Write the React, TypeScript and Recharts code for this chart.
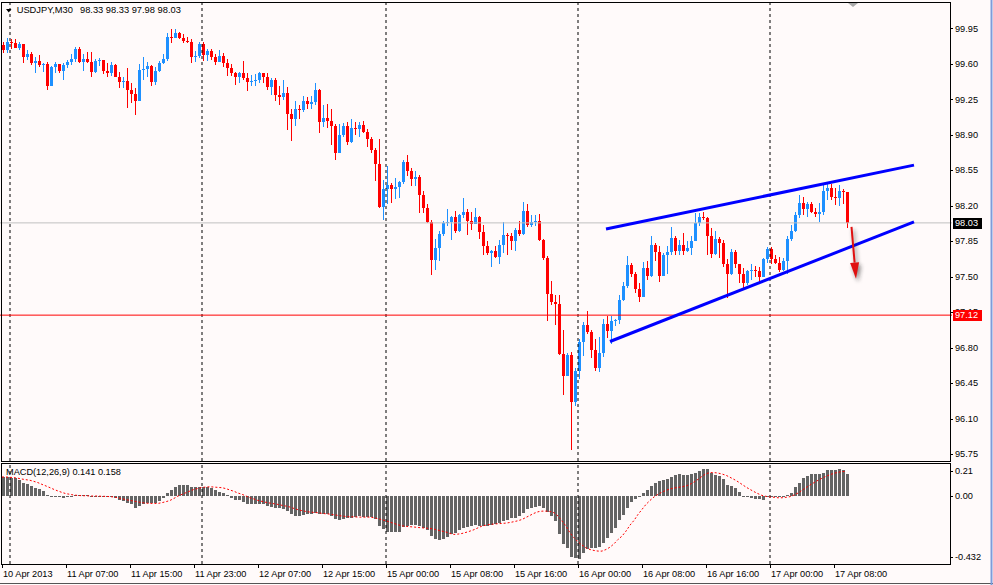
import React from "react";
import { ComposedChart, Bar, Line, XAxis, YAxis, ReferenceLine } from "recharts";

// USDJPY M30, bars (open = previous close)
const firstOpen = 99.78;
const closes = [
  99.74, 99.81, 99.8, 99.76, 99.79, 99.67, 99.7, 99.61, 99.63, 99.59,
  99.6, 99.38, 99.57, 99.6, 99.53, 99.59, 99.62, 99.65, 99.75, 99.62,
  99.65, 99.62, 99.52, 99.63, 99.64, 99.53, 99.51, 99.59, 99.47, 99.42,
  99.43, 99.34, 99.3, 99.23, 99.54, 99.55, 99.58, 99.42, 99.53, 99.61,
  99.65, 99.86, 99.85, 99.9, 99.85, 99.82, 99.81, 99.67, 99.68, 99.79,
  99.69, 99.73, 99.67, 99.62, 99.68, 99.61, 99.56, 99.51, 99.47, 99.51,
  99.46, 99.42, 99.43, 99.44, 99.51, 99.47, 99.37, 99.44, 99.29, 99.27,
  99.31, 99.1, 99.05, 99.15, 99.14, 99.23, 99.2, 99.22, 99.34, 99.03,
  99.06, 99.04, 98.99, 98.72, 98.9, 98.99, 98.83, 98.97, 98.96, 99.0,
  98.93, 98.86, 98.75, 98.61, 98.19, 98.36, 98.4, 98.36, 98.38, 98.43,
  98.63, 98.54, 98.46, 98.48, 98.31, 98.18, 98.04, 97.66, 97.78, 97.92,
  98.03, 98.04, 98.09, 97.95, 98.11, 98.14, 98.05, 98.02, 98.09, 97.94,
  97.8, 97.73, 97.75, 97.69, 97.81, 97.91, 97.9, 97.85, 97.96, 97.92,
  98.15, 98.01, 98.04, 98.05, 97.86, 97.68, 97.33, 97.25, 97.23, 96.74,
  96.52, 96.73, 96.26, 96.57, 96.85, 97.02, 96.95, 96.78, 96.6, 96.75,
  97.03, 96.96, 97.06, 97.07, 97.27, 97.41, 97.61, 97.53, 97.38, 97.3,
  97.58, 97.51, 97.81, 97.74, 97.51, 97.71, 97.74, 97.88, 97.75, 97.81,
  97.75, 97.78, 97.85, 98.03, 98.09, 98.08, 97.9, 97.72, 97.87, 97.83,
  97.62, 97.53, 97.74, 97.62, 97.53, 97.44, 97.56, 97.57, 97.56, 97.5,
  97.67, 97.77, 97.67, 97.63, 97.57, 97.65, 97.87, 97.95, 98.11, 98.23,
  98.17, 98.22, 98.14, 98.12, 98.14, 98.34, 98.37, 98.29, 98.28, 98.34,
  98.33, 98.03,
];
const highs = [
  99.81, 99.85, 99.84, 99.84, 99.81, 99.78, 99.74, 99.72, 99.67, 99.69,
  99.61, 99.62, 99.58, 99.62, 99.6, 99.61, 99.64, 99.7, 99.77, 99.77,
  99.7, 99.72, 99.72, 99.65, 99.66, 99.63, 99.61, 99.62, 99.6, 99.52,
  99.47, 99.56, 99.41, 99.36, 99.6, 99.67, 99.62, 99.59, 99.57, 99.63,
  99.7, 99.9, 99.94, 99.94, 99.91, 99.89, 99.86, 99.84, 99.73, 99.81,
  99.81, 99.75, 99.75, 99.7, 99.74, 99.71, 99.65, 99.6, 99.52, 99.52,
  99.63, 99.51, 99.49, 99.5, 99.52, 99.51, 99.51, 99.46, 99.46, 99.38,
  99.44, 99.37, 99.15, 99.23, 99.19, 99.28, 99.27, 99.28, 99.41, 99.35,
  99.19, 99.2, 99.15, 99.01, 99.01, 99.02, 99.03, 99.05, 99.03, 99.03,
  99.04, 98.96, 98.88, 98.77, 98.86, 98.45, 98.59, 98.42, 98.47, 98.44,
  98.65, 98.7, 98.57, 98.54, 98.5, 98.34, 98.22, 98.06, 97.87, 97.95,
  98.05, 98.17, 98.1, 98.15, 98.12, 98.28, 98.17, 98.14, 98.18, 98.1,
  98.01, 97.85, 97.76, 97.8, 97.86, 98.04, 97.93, 97.93, 97.98, 98.05,
  98.24, 98.22, 98.11, 98.11, 98.12, 97.87, 97.7, 97.46, 97.32, 97.32,
  96.97, 96.75, 96.76, 96.6, 96.88, 97.05, 97.16, 96.97, 96.88, 96.9,
  97.08, 97.11, 97.11, 97.08, 97.32, 97.45, 97.7, 97.63, 97.55, 97.44,
  97.64, 97.65, 97.9, 97.83, 97.8, 97.73, 97.8, 97.99, 97.9, 97.86,
  97.93, 97.85, 97.9, 98.13, 98.13, 98.14, 98.09, 97.98, 97.95, 97.89,
  97.86, 97.67, 97.77, 97.76, 97.62, 97.58, 97.57, 97.62, 97.6, 97.59,
  97.68, 97.79, 97.79, 97.71, 97.69, 97.68, 97.9, 98.01, 98.14, 98.31,
  98.29, 98.24, 98.24, 98.18, 98.23, 98.41, 98.42, 98.41, 98.37, 98.4,
  98.36, 98.33,
];
const lows = [
  99.71, 99.71, 99.75, 99.76, 99.74, 99.61, 99.64, 99.59, 99.51, 99.57,
  99.52, 99.34, 99.38, 99.51, 99.51, 99.44, 99.56, 99.59, 99.62, 99.61,
  99.53, 99.61, 99.47, 99.51, 99.58, 99.5, 99.47, 99.48, 99.47, 99.36,
  99.36, 99.16, 99.21, 99.09, 99.23, 99.44, 99.47, 99.38, 99.39, 99.52,
  99.6, 99.63, 99.8, 99.85, 99.84, 99.8, 99.8, 99.61, 99.62, 99.66,
  99.63, 99.63, 99.64, 99.59, 99.62, 99.57, 99.48, 99.48, 99.39, 99.41,
  99.44, 99.33, 99.38, 99.38, 99.41, 99.41, 99.34, 99.29, 99.23, 99.19,
  99.24, 98.95, 98.84, 98.99, 99.05, 99.12, 99.15, 99.15, 99.19, 98.92,
  98.98, 98.97, 98.8, 98.65, 98.72, 98.88, 98.8, 98.82, 98.9, 98.88,
  98.92, 98.78, 98.72, 98.44, 98.18, 98.06, 98.22, 98.23, 98.27, 98.28,
  98.41, 98.49, 98.39, 98.39, 98.13, 98.13, 98.03, 97.52, 97.57, 97.65,
  97.9, 98.0, 97.86, 97.93, 97.94, 98.08, 97.91, 97.96, 98.03, 97.87,
  97.71, 97.71, 97.59, 97.68, 97.62, 97.73, 97.71, 97.76, 97.75, 97.9,
  97.91, 97.99, 97.99, 98.0, 97.85, 97.66, 97.06, 97.22, 97.02, 96.73,
  96.33, 96.52, 95.79, 96.22, 96.49, 96.72, 96.93, 96.7, 96.57, 96.56,
  96.71, 96.89, 96.84, 97.01, 97.03, 97.26, 97.39, 97.5, 97.34, 97.25,
  97.3, 97.47, 97.5, 97.65, 97.45, 97.51, 97.53, 97.71, 97.71, 97.71,
  97.71, 97.74, 97.71, 97.85, 98.0, 98.06, 97.71, 97.68, 97.71, 97.68,
  97.59, 97.29, 97.52, 97.58, 97.44, 97.39, 97.42, 97.47, 97.5, 97.45,
  97.53, 97.63, 97.62, 97.62, 97.55, 97.56, 97.53, 97.85, 97.94, 98.08,
  98.11, 98.09, 98.13, 98.09, 98.04, 98.11, 98.26, 98.26, 98.21, 98.2,
  98.22, 97.98,
];

// MACD(12,26,9): histogram (main line) and signal
const macdHist = [
  0.121, 0.121, 0.117, 0.113, 0.1, 0.085, 0.074, 0.062, 0.053, 0.042,
  0.032, 0.006, 0.002, -0.004, -0.008, -0.011, -0.006, -0.002, 0.008, 0.008,
  0.006, 0.006, -0.002, -0.004, -0.002, -0.006, -0.008, -0.008, -0.015, -0.025,
  -0.032, -0.042, -0.053, -0.074, -0.064, -0.053, -0.042, -0.047, -0.045, -0.032,
  -0.015, 0.017, 0.038, 0.059, 0.07, 0.07, 0.07, 0.059, 0.055, 0.059,
  0.059, 0.059, 0.049, 0.038, 0.028, 0.017, 0.006, -0.011, -0.023, -0.028,
  -0.036, -0.049, -0.053, -0.053, -0.053, -0.053, -0.064, -0.068, -0.074, -0.079,
  -0.083, -0.096, -0.117, -0.127, -0.127, -0.121, -0.117, -0.113, -0.106, -0.113,
  -0.113, -0.117, -0.127, -0.149, -0.153, -0.144, -0.142, -0.142, -0.134, -0.13,
  -0.132, -0.132, -0.134, -0.149, -0.191, -0.212, -0.227, -0.229, -0.229, -0.229,
  -0.195, -0.191, -0.187, -0.187, -0.191, -0.206, -0.219, -0.255, -0.276, -0.28,
  -0.272, -0.261, -0.244, -0.238, -0.219, -0.206, -0.197, -0.191, -0.187, -0.191,
  -0.193, -0.191, -0.185, -0.18, -0.174, -0.159, -0.151, -0.142, -0.138, -0.127,
  -0.106, -0.085, -0.079, -0.068, -0.064, -0.074, -0.1, -0.127, -0.159, -0.244,
  -0.304, -0.329, -0.389, -0.393, -0.403, -0.361, -0.335, -0.329, -0.329, -0.323,
  -0.301, -0.265, -0.234, -0.202, -0.155, -0.121, -0.074, -0.038, -0.017, -0.004,
  0.017, 0.038, 0.064, 0.085, 0.096, 0.102, 0.106, 0.123, 0.132, 0.138,
  0.134, 0.134, 0.138, 0.149, 0.159, 0.174, 0.17, 0.149, 0.134, 0.127,
  0.106, 0.068, 0.064, 0.053, 0.028, 0.002, -0.006, -0.011, -0.017, -0.021,
  -0.025, -0.006, -0.006, -0.006, -0.008, -0.006, 0.004, 0.017, 0.059, 0.085,
  0.113, 0.127, 0.138, 0.138, 0.138, 0.149, 0.166, 0.166, 0.166, 0.17,
  0.163, 0.141,
];
const macdSignal = [
  0.121, 0.121, 0.119, 0.117, 0.113, 0.108, 0.104, 0.1, 0.093, 0.085,
  0.074, 0.064, 0.053, 0.042, 0.032, 0.023, 0.015, 0.011, 0.006, 0.004,
  0.002, 0.002, 0.0, 0.0, 0.0, -0.002, -0.002, -0.004, -0.006, -0.011,
  -0.017, -0.023, -0.028, -0.032, -0.038, -0.042, -0.045, -0.047, -0.047, -0.047,
  -0.042, -0.036, -0.028, -0.015, 0.0, 0.011, 0.021, 0.032, 0.042, 0.049,
  0.055, 0.057, 0.059, 0.057, 0.055, 0.053, 0.047, 0.038, 0.03, 0.019,
  0.011, 0.0, -0.011, -0.019, -0.028, -0.034, -0.04, -0.045, -0.049, -0.053,
  -0.059, -0.064, -0.07, -0.079, -0.087, -0.093, -0.098, -0.102, -0.104, -0.106,
  -0.11, -0.113, -0.115, -0.119, -0.123, -0.127, -0.13, -0.132, -0.132, -0.134,
  -0.134, -0.134, -0.134, -0.138, -0.144, -0.151, -0.157, -0.166, -0.174, -0.183,
  -0.189, -0.193, -0.195, -0.197, -0.2, -0.202, -0.204, -0.206, -0.21, -0.217,
  -0.223, -0.229, -0.238, -0.244, -0.242, -0.238, -0.231, -0.223, -0.214, -0.202,
  -0.191, -0.185, -0.18, -0.178, -0.176, -0.174, -0.172, -0.168, -0.163, -0.157,
  -0.149, -0.136, -0.123, -0.11, -0.1, -0.096, -0.096, -0.098, -0.106, -0.127,
  -0.159, -0.191, -0.234, -0.265, -0.291, -0.312, -0.329, -0.34, -0.346, -0.35,
  -0.35, -0.34, -0.325, -0.304, -0.276, -0.255, -0.223, -0.185, -0.155, -0.117,
  -0.085, -0.053, -0.028, -0.006, 0.011, 0.025, 0.036, 0.045, 0.051, 0.055,
  0.059, 0.064, 0.074, 0.089, 0.106, 0.125, 0.142, 0.149, 0.149, 0.146,
  0.14, 0.132, 0.119, 0.106, 0.091, 0.074, 0.057, 0.042, 0.028, 0.015,
  0.004, -0.002, -0.006, -0.008, -0.011, -0.011, -0.008, -0.004, 0.006, 0.019,
  0.036, 0.053, 0.07, 0.085, 0.1, 0.113, 0.125, 0.136, 0.144, 0.151,
  0.155, 0.158,
];

// one time label every 16 bars
const timeLabels = [
  "10 Apr 2013", "11 Apr 07:00", "11 Apr 15:00", "11 Apr 23:00", "12 Apr 07:00",
  "12 Apr 15:00", "15 Apr 00:00", "15 Apr 08:00", "15 Apr 16:00", "16 Apr 00:00",
  "16 Apr 08:00", "16 Apr 16:00", "17 Apr 00:00", "17 Apr 08:00",
];
const daySeparators = [2, 50, 96, 144, 192];
const priceTicks = [95.75, 96.1, 96.45, 96.8, 97.15, 97.5, 97.85, 98.2, 98.55, 98.9, 99.25, 99.6, 99.95];
const macdTicks = [0.21, 0, -0.432];
const levelPrice = 97.12;

// hand-drawn channel and arrow (bar index, price)
const channelTop = [{ x: 151, y: 97.97 }, { x: 228, y: 98.6 }];
const channelBottom = [{ x: 152, y: 96.86 }, { x: 228, y: 98.04 }];
const arrowPath = [{ x: 212, y: 97.99 }, { x: 213, y: 97.48 }];

const SLOTS = 238; // bar slots across the window incl. empty chart shift
const CHART_W = 995;
const AXIS_W = 43;
const BG = "#FFFAFA";
const FONT = '"Liberation Sans", Arial, sans-serif';
const FS = 9.2;
const UP = "#1E90FF";
const DOWN = "#FF0000";

const rows = Array.from({ length: SLOTS }, (_, i) =>
  i < closes.length
    ? {
        i,
        open: i === 0 ? firstOpen : closes[i - 1],
        high: highs[i],
        low: lows[i],
        close: closes[i],
        macd: macdHist[i],
        signal: macdSignal[i],
      }
    : { i }
);

const bid = closes[closes.length - 1];
// price tags are drawn last so they sit on top of the regular labels
const tagColors: Record<string, string> = {
  [bid.toFixed(2)]: "#000000",
  [levelPrice.toFixed(2)]: "#FF0000",
};
const axisTicks = [...priceTicks, bid, levelPrice];

function Candle(props: any) {
  const { x, y, width, height, payload } = props;
  if (!payload || payload.high == null || !Number.isFinite(y)) return null;
  const top = Math.min(y, y + height);
  const bot = Math.max(y, y + height);
  const span = payload.high - payload.low;
  const toY = (v: number) => (span > 0 ? top + ((payload.high - v) / span) * (bot - top) : top);
  const yo = toY(payload.open);
  const yc = toY(payload.close);
  const color = payload.close > payload.open ? UP : DOWN;
  const cx = Math.round(x + width / 2);
  let b0 = Math.round(Math.min(yo, yc));
  let b1 = Math.round(Math.max(yo, yc));
  if (b1 - b0 < 1) b1 = b0 + 1;
  const w0 = Math.min(Math.round(top), b0);
  const w1 = Math.max(Math.round(bot), b1);
  return (
    <g shapeRendering="crispEdges">
      <rect x={cx} y={w0} width={1} height={Math.max(w1 - w0, 1)} fill={color} />
      <rect x={cx - 1} y={b0} width={3} height={b1 - b0} fill={color} />
    </g>
  );
}

function HistBar(props: any) {
  const { x, y, width, height } = props;
  if (!Number.isFinite(y) || !Number.isFinite(height)) return null;
  const top = Math.round(Math.min(y, y + height));
  const bot = Math.round(Math.max(y, y + height));
  const cx = Math.round(x + width / 2);
  return (
    <rect x={cx - 1} y={top} width={3} height={Math.max(bot - top, 1)} fill="#646464" shapeRendering="crispEdges" />
  );
}

function PriceTick({ x, y, payload, index }: any) {
  const label = Number(payload.value).toFixed(2);
  const tag = index >= priceTicks.length ? tagColors[label] : undefined;
  if (tag) {
    return (
      <g>
        <rect x={x + 1} y={Math.round(y) - 5} width={29} height={11} fill={tag} />
        <text x={x + 3} y={y} dy="0.36em" fontSize={FS} fontFamily={FONT} fill="#fff">
          {label}
        </text>
      </g>
    );
  }
  const yy = Math.round(y) + 0.5;
  return (
    <g>
      <line x1={x - 2} x2={x + 1} y1={yy} y2={yy} stroke="#000" />
      <text x={x + 3} y={y} dy="0.36em" fontSize={FS} fontFamily={FONT} fill="#000">
        {label}
      </text>
    </g>
  );
}

function MacdTick({ x, y, payload }: any) {
  const v = Number(payload.value);
  const shift = v === macdTicks[0] ? 7.5 : v === macdTicks[2] ? -7 : 0;
  const label = Math.abs(Math.round(v * 100) - v * 100) > 1e-6 ? v.toFixed(3) : v.toFixed(2);
  const yy = Math.round(y + shift) + 0.5;
  return (
    <g>
      <line x1={x - 2} x2={x + 1} y1={yy} y2={yy} stroke="#000" />
      <text x={x + 3} y={y + shift} dy="0.36em" fontSize={FS} fontFamily={FONT} fill="#000">
        {label}
      </text>
    </g>
  );
}

function TimeTick({ x, y, payload }: any) {
  const label = timeLabels[Math.round(Number(payload.value) / 16)];
  if (!label) return null;
  const xx = Math.round(x) + 0.5;
  return (
    <g>
      <line x1={xx} x2={xx} y1={y} y2={y + 4} stroke="#000" />
      <text x={x + 1} y={y + 12.7} fontSize={FS} fontFamily={FONT} fill="#000">
        {label}
      </text>
    </g>
  );
}

function ArrowShape(p: any) {
  const { x1, y1, x2, y2 } = p;
  if (![x1, y1, x2, y2].every(Number.isFinite)) return null;
  const sx = x1 + 1.5;
  const ex = x2 + 2;
  const dx = ex - sx;
  const dy = y2 - y1;
  const len = Math.hypot(dx, dy) || 1;
  const ux = dx / len;
  const uy = dy / len;
  const hl = 16;
  const hw = 4.5;
  const bx = ex - ux * hl;
  const by = y2 - uy * hl;
  const pts = `${ex},${y2} ${bx - uy * hw},${by + ux * hw} ${bx + uy * hw},${by - ux * hw}`;
  return (
    <g>
      <defs>
        <filter id="arrowShade" x="-100%" y="-50%" width="300%" height="200%">
          <feGaussianBlur stdDeviation="2" />
        </filter>
      </defs>
      <g transform="translate(2,3)" opacity={0.55} filter="url(#arrowShade)">
        <line x1={sx} y1={y1} x2={bx} y2={by} stroke="#222" strokeWidth={2} />
        <polygon points={pts} fill="#222" />
      </g>
      <line x1={sx} y1={y1} x2={bx} y2={by} stroke="#E01010" strokeWidth={2} />
      <polygon points={pts} fill="#E01010" />
    </g>
  );
}

export default function App() {
  const last = closes.length - 1;
  const title = [closes[last - 1], highs[last], lows[last], closes[last]].map((v) => v.toFixed(2)).join(" ");
  const macdLabel = `MACD(12,26,9) ${macdHist[last].toFixed(3)} ${macdSignal[last].toFixed(3)}`;

  return (
    <div
      style={{
        position: "absolute",
        left: 0,
        top: 0,
        width: 993,
        height: 585,
        overflow: "hidden",
        background: BG,
      }}
    >
      <div style={{ position: "absolute", left: 0, top: 0 }}>
        <ComposedChart width={CHART_W} height={462} data={rows} margin={{ top: 2, right: 0, bottom: 1, left: 0 }}>
          <XAxis dataKey="i" type="category" hide />
          <YAxis
            orientation="right"
            width={AXIS_W}
            domain={[95.681, 100.209]}
            allowDataOverflow
            ticks={axisTicks}
            interval={0}
            tick={<PriceTick />}
            tickSize={0}
            tickMargin={0}
            axisLine={false}
            tickLine={false}
          />
          {daySeparators.map((d) => (
            <ReferenceLine key={d} x={d} stroke="#000" strokeDasharray="3 3" />
          ))}
          <ReferenceLine y={bid} stroke="#C0C0C0" />
          <ReferenceLine y={levelPrice} stroke="#FF0000" />
          <Bar
            dataKey={(d: any) => (d.high == null ? null : [d.low, d.high])}
            barSize={3}
            shape={<Candle />}
            isAnimationActive={false}
          />
          <ReferenceLine segment={channelTop} stroke="#0000FF" strokeWidth={3} />
          <ReferenceLine segment={channelBottom} stroke="#0000FF" strokeWidth={3} />
          <ReferenceLine segment={arrowPath} shape={(p: any) => <ArrowShape {...p} />} />
        </ComposedChart>
      </div>

      <div style={{ position: "absolute", left: 0, top: 463 }}>
        <ComposedChart width={CHART_W} height={122} data={rows} margin={{ top: 0, right: 0, bottom: 0, left: 0 }}>
          <XAxis
            dataKey="i"
            type="category"
            height={21}
            interval={15}
            tick={<TimeTick />}
            tickSize={0}
            tickMargin={0}
            axisLine={false}
            tickLine={false}
          />
          <YAxis
            orientation="right"
            width={AXIS_W}
            domain={[-0.432, 0.21]}
            allowDataOverflow
            ticks={macdTicks}
            interval={0}
            tick={<MacdTick />}
            tickSize={0}
            tickMargin={0}
            axisLine={false}
            tickLine={false}
          />
          {daySeparators.map((d) => (
            <ReferenceLine key={d} x={d} stroke="#000" strokeDasharray="3 3" />
          ))}
          <Bar dataKey="macd" barSize={3} shape={<HistBar />} isAnimationActive={false} />
          <Line
            dataKey="signal"
            stroke="#FF0000"
            strokeWidth={1}
            strokeDasharray="2 2"
            dot={false}
            type="linear"
            isAnimationActive={false}
          />
        </ComposedChart>
      </div>

      <svg
        width={993}
        height={585}
        style={{ position: "absolute", left: 0, top: 0, pointerEvents: "none" }}
      >
        <rect x={1.5} y={2.5} width={949} height={459} fill="none" stroke="#000" />
        <rect x={1.5} y={463.5} width={949} height={101} fill="none" stroke="#000" />
        <polygon points="848,3 858,3 853,7" fill="#A9A9A9" />
        <polygon points="6,9 11.5,9 8.75,12.5" fill="#000" />
        <text x={16.7} y={13.4} fontSize={9.3} fontFamily={FONT} fill="#000">
          USDJPY,M30
        </text>
        <text x={80} y={13.4} fontSize={9.3} fontFamily={FONT} fill="#000">
          {title}
        </text>
        <text x={6} y={475.4} fontSize={FS} fontFamily={FONT} fill="#000">
          {macdLabel}
        </text>
        <line x1={0} x2={993} y1={583.5} y2={583.5} stroke="#555" />
        <line x1={991.5} x2={991.5} y1={0} y2={585} stroke="#7E9BDA" strokeWidth={2} />
      </svg>
    </div>
  );
}
